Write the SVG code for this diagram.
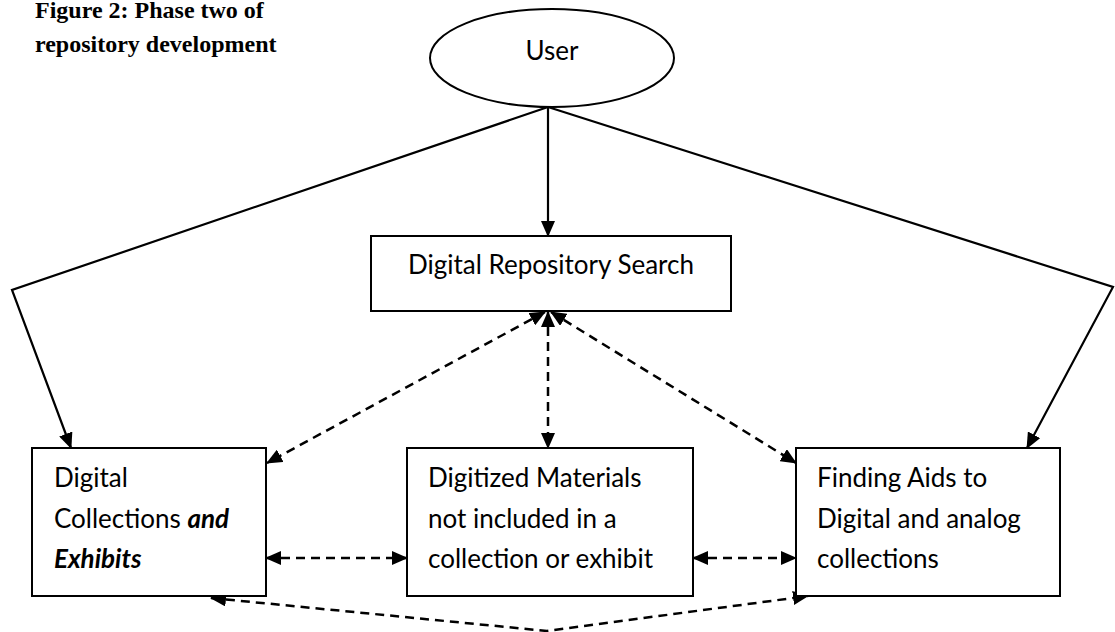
<svg xmlns="http://www.w3.org/2000/svg" width="1115" height="632" viewBox="0 0 1115 632">
  <style>
    .shape { fill: #ffffff; stroke: #000000; stroke-width: 2; }
    .label { font-family: Lato, "Open Sans", sans-serif; font-size: 26px; fill: #000000; }
    .mid { text-anchor: middle; }
    .em { font-weight: bold; font-style: italic; }
    .title { font-family: "Liberation Serif", "Times New Roman", serif; font-size: 24px; font-weight: bold; fill: #000000; }
    .solid { fill: none; stroke: #000000; stroke-width: 2.2; marker-end: url(#arrow); }
    .dashed { fill: none; stroke: #000000; stroke-width: 2.5; stroke-dasharray: 9 6; marker-start: url(#arrow); marker-end: url(#arrow); }
  </style>
  <defs>
    <marker id="arrow" markerUnits="userSpaceOnUse" markerWidth="16" markerHeight="14" refX="15" refY="7" orient="auto-start-reverse" viewBox="0 0 16 14">
      <path d="M0,0 L16,7 L0,14 z" fill="#000000"/>
    </marker>
  </defs>

  <rect width="1115" height="632" fill="#ffffff"/>

  <!-- caption -->
  <g id="caption">
    <text class="title" x="35" y="18">Figure 2: Phase two of</text>
    <text class="title" x="35" y="52">repository development</text>
  </g>

  <!-- connectors -->
  <g id="connectors">
    <line class="solid" x1="548" y1="107" x2="548" y2="236"/>
    <polyline class="solid" points="548,107 12,290 71,448"/>
    <polyline class="solid" points="548,107 1113,287 1027,448"/>
    <line class="dashed" x1="545" y1="312" x2="267" y2="463"/>
    <line class="dashed" x1="548" y1="312" x2="548" y2="448"/>
    <line class="dashed" x1="551" y1="312" x2="796" y2="463"/>
    <line class="dashed" x1="266" y1="558" x2="407" y2="558"/>
    <line class="dashed" x1="693" y1="558" x2="796" y2="558"/>
    <polyline class="dashed" points="211,598 547,631 808,596"/>
  </g>

  <g id="user">
    <ellipse class="shape" cx="552" cy="58" rx="122" ry="49"/>
    <text class="label mid" x="552" y="60">User</text>
  </g>

  <g id="repository-search">
    <rect class="shape" x="371" y="236" width="360" height="75"/>
    <text class="label mid" x="551" y="274">Digital Repository Search</text>
  </g>

  <g id="collections-exhibits">
    <rect class="shape" x="32" y="448" width="234" height="148"/>
    <text class="label" x="54" y="487">Digital</text>
    <text class="label" x="54" y="528">Collections <tspan class="em">and</tspan></text>
    <text class="label em" x="54" y="568">Exhibits</text>
  </g>

  <g id="digitized-materials">
    <rect class="shape" x="407" y="448" width="286" height="148"/>
    <text class="label" x="428" y="487">Digitized Materials</text>
    <text class="label" x="428" y="528">not included in a</text>
    <text class="label" x="428" y="568">collection or exhibit</text>
  </g>

  <g id="finding-aids">
    <rect class="shape" x="796" y="448" width="264" height="148"/>
    <text class="label" x="817" y="487">Finding Aids to</text>
    <text class="label" x="817" y="528">Digital and analog</text>
    <text class="label" x="817" y="568">collections</text>
  </g>
</svg>
